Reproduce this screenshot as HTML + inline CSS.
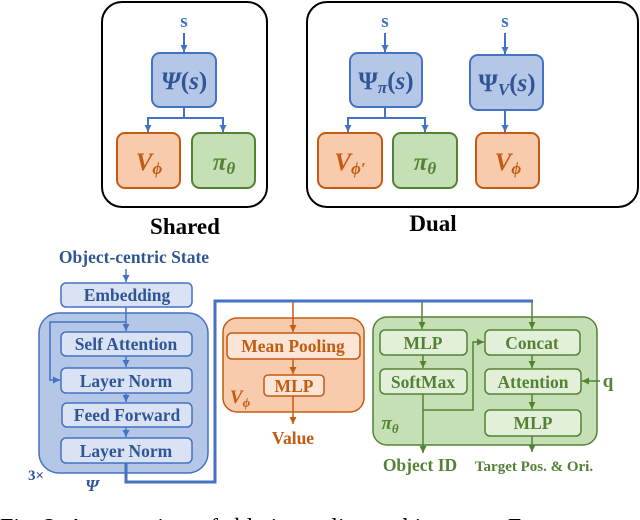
<!DOCTYPE html>
<html><head><meta charset="utf-8"><style>
html,body{margin:0;padding:0;background:#fff;width:640px;height:520px;overflow:hidden}
text{font-family:"Liberation Serif",serif;font-weight:bold}
</style></head><body>
<svg width="640" height="520" viewBox="0 0 640 520" xmlns="http://www.w3.org/2000/svg">
<defs>
<marker id="ab" markerWidth="8" markerHeight="8" refX="7" refY="4" orient="auto" markerUnits="userSpaceOnUse"><path d="M0,0.5 L7,4 L0,7.5 z" fill="#4472c4"/></marker>
<marker id="ao" markerWidth="8" markerHeight="8" refX="7" refY="4" orient="auto" markerUnits="userSpaceOnUse"><path d="M0,0.5 L7,4 L0,7.5 z" fill="#c55a11"/></marker>
<marker id="ag" markerWidth="8" markerHeight="8" refX="7" refY="4" orient="auto" markerUnits="userSpaceOnUse"><path d="M0,0.5 L7,4 L0,7.5 z" fill="#548235"/></marker>
</defs>
<rect x="102" y="2" width="165" height="205" rx="20" fill="#fff" stroke="#000" stroke-width="2"/>
<rect x="307" y="2" width="331" height="205" rx="20" fill="#fff" stroke="#000" stroke-width="2"/>
<g fill="#4472c4" font-size="19" text-anchor="middle">
<text x="184" y="27">s</text><text x="385" y="27">s</text><text x="505" y="27">s</text></g>
<g stroke="#4472c4" stroke-width="2" fill="none">
<line x1="184" y1="33" x2="184" y2="52" marker-end="url(#ab)"/>
<line x1="385" y1="33" x2="385" y2="52" marker-end="url(#ab)"/>
<line x1="505" y1="33" x2="505" y2="54" marker-end="url(#ab)"/>
<path d="M184,107 V118 H148 V132" marker-end="url(#ab)"/><path d="M184,118 H223 V132" marker-end="url(#ab)"/>
<path d="M385,107 V118 H348 V132" marker-end="url(#ab)"/><path d="M385,118 H425 V132" marker-end="url(#ab)"/>
<line x1="505" y1="110" x2="505" y2="132" marker-end="url(#ab)"/>
</g>
<rect x="152" y="53" width="64" height="54" rx="8" fill="#b4c7e7" stroke="#4472c4" stroke-width="2"/>
<rect x="350" y="53" width="72" height="54" rx="8" fill="#b4c7e7" stroke="#4472c4" stroke-width="2"/>
<rect x="470" y="55" width="73" height="55" rx="8" fill="#b4c7e7" stroke="#4472c4" stroke-width="2"/>
<g fill="#2f5597" font-size="25" text-anchor="middle">
<text x="184" y="89"><tspan font-style="italic">Ψ</tspan>(<tspan font-style="italic">s</tspan>)</text>
<text x="386" y="89">Ψ<tspan font-style="italic" font-size="17" dy="4">π</tspan><tspan dy="-4">(</tspan><tspan font-style="italic">s</tspan>)</text>
<text x="507" y="91">Ψ<tspan font-style="italic" font-size="17" dy="4">V</tspan><tspan dy="-4">(</tspan><tspan font-style="italic">s</tspan>)</text>
</g>
<g stroke-width="2">
<rect x="117" y="133" width="63" height="55" rx="8" fill="#f8cbad" stroke="#c55a11"/>
<rect x="192" y="133" width="63" height="55" rx="8" fill="#c5e0b4" stroke="#548235"/>
<rect x="318" y="133" width="64" height="55" rx="8" fill="#f8cbad" stroke="#c55a11"/>
<rect x="393" y="133" width="64" height="55" rx="8" fill="#c5e0b4" stroke="#548235"/>
<rect x="476" y="133" width="63" height="55" rx="8" fill="#f8cbad" stroke="#c55a11"/>
</g>
<g font-size="25" font-style="italic" text-anchor="middle">
<text x="149" y="170" fill="#c55a11">V<tspan font-size="17" dy="4">ϕ</tspan></text>
<text x="224" y="170" fill="#548235">π<tspan font-size="17" dy="4">θ</tspan></text>
<text x="350" y="170" fill="#c55a11">V<tspan font-size="17" dy="4">ϕ′</tspan></text>
<text x="425" y="170" fill="#548235">π<tspan font-size="17" dy="4">θ</tspan></text>
<text x="508" y="170" fill="#c55a11">V<tspan font-size="17" dy="4">ϕ</tspan></text>
</g>
<text x="185" y="234" font-size="23" text-anchor="middle">Shared</text>
<text x="433" y="231" font-size="23" text-anchor="middle">Dual</text>

<text x="134" y="263" font-size="17.5" fill="#2f5597" text-anchor="middle">Object-centric State</text>
<line x1="126" y1="269" x2="126" y2="282" stroke="#4472c4" stroke-width="1.5" marker-end="url(#ab)"/>
<rect x="39" y="313" width="169" height="160" rx="20" fill="#b4c7e7" stroke="#4472c4" stroke-width="1.5"/>
<g fill="#dae3f3" stroke="#4472c4" stroke-width="1.5">
<rect x="61" y="283" width="131" height="24" rx="5"/>
<rect x="61" y="332" width="131" height="24" rx="5"/>
<rect x="61" y="368" width="131" height="25" rx="5"/>
<rect x="62" y="403" width="130" height="24" rx="5"/>
<rect x="61" y="438" width="131" height="25" rx="5"/>
</g>
<g stroke="#4472c4" stroke-width="1.5" fill="none">
<line x1="126" y1="307" x2="126" y2="331" marker-end="url(#ab)"/>
<path d="M126,322 H50 V380 H60" marker-end="url(#ab)"/>
<line x1="126" y1="356" x2="126" y2="367" marker-end="url(#ab)"/>
<line x1="126" y1="393" x2="126" y2="402" marker-end="url(#ab)"/>
<line x1="126" y1="427" x2="126" y2="437" marker-end="url(#ab)"/>
</g>
<g fill="#2f5597" font-size="17.5" text-anchor="middle">
<text x="127" y="301">Embedding</text>
<text x="126" y="350">Self Attention</text>
<text x="126" y="387">Layer Norm</text>
<text x="127" y="421">Feed Forward</text>
<text x="126" y="457">Layer Norm</text>
<text x="36" y="480" font-size="15">3×</text>
<text x="92" y="491" font-style="italic" font-size="17">Ψ</text>
</g>
<path d="M126,463 V482 H215 V301 H533" stroke="#4472c4" stroke-width="3" fill="none"/>

<rect x="223" y="318" width="141" height="94" rx="14" fill="#f8cbad" stroke="#c55a11" stroke-width="1.5"/>
<line x1="293" y1="302" x2="293" y2="332" stroke="#c55a11" stroke-width="1.5" marker-end="url(#ao)"/>
<rect x="227" y="333" width="133" height="26" rx="5" fill="#fbe5d6" stroke="#c55a11" stroke-width="1.5"/>
<line x1="293" y1="359" x2="293" y2="374" stroke="#c55a11" stroke-width="1.5" marker-end="url(#ao)"/>
<rect x="264" y="375" width="60" height="21" rx="4" fill="#fbe5d6" stroke="#c55a11" stroke-width="1.5"/>
<line x1="293" y1="396" x2="293" y2="424" stroke="#c55a11" stroke-width="1.5" marker-end="url(#ao)"/>
<g fill="#c55a11" font-size="17.5" text-anchor="middle">
<text x="293" y="352">Mean Pooling</text>
<text x="294" y="392">MLP</text>
<text x="293" y="444">Value</text>
<text x="240" y="403" font-style="italic" font-size="19">V<tspan font-size="13" dy="4">ϕ</tspan></text>
</g>

<rect x="373" y="317" width="224" height="128" rx="14" fill="#c5e0b4" stroke="#548235" stroke-width="1.5"/>
<g fill="#e2f0d9" stroke="#548235" stroke-width="1.5">
<rect x="380" y="330" width="87" height="25" rx="5"/>
<rect x="380" y="369" width="87" height="25" rx="5"/>
<rect x="485" y="330" width="95" height="25" rx="5"/>
<rect x="485" y="369" width="96" height="25" rx="5"/>
<rect x="485" y="410" width="96" height="26" rx="5"/>
</g>
<g stroke="#548235" stroke-width="1.5" fill="none">
<line x1="422" y1="302" x2="422" y2="329" marker-end="url(#ag)"/>
<line x1="532" y1="302" x2="532" y2="329" marker-end="url(#ag)"/>
<line x1="423" y1="355" x2="423" y2="368" marker-end="url(#ag)"/>
<line x1="423" y1="394" x2="423" y2="453" marker-end="url(#ag)"/>
<path d="M423,410 H473 V342 H484" marker-end="url(#ag)"/>
<line x1="532" y1="355" x2="532" y2="368" marker-end="url(#ag)"/>
<line x1="532" y1="394" x2="532" y2="409" marker-end="url(#ag)"/>
<line x1="532" y1="436" x2="532" y2="452" marker-end="url(#ag)"/>
<line x1="600" y1="381" x2="582" y2="381" marker-end="url(#ag)"/>
</g>
<g fill="#548235" font-size="17.5" text-anchor="middle">
<text x="423" y="349">MLP</text>
<text x="423" y="388">SoftMax</text>
<text x="532" y="349">Concat</text>
<text x="533" y="388">Attention</text>
<text x="533" y="429">MLP</text>
<text x="608" y="387" font-size="19">q</text>
<text x="420" y="471">Object ID</text>
<text x="534" y="471" font-size="15">Target Pos. &amp; Ori.</text>
<text x="390" y="429" font-style="italic" font-size="19">π<tspan font-size="13" dy="4">θ</tspan></text>
</g>

<text x="0" y="535" font-size="24" style="font-weight:normal">Fig. 2: An overview of ablation policy architectures. For</text>
</svg>
</body></html>
